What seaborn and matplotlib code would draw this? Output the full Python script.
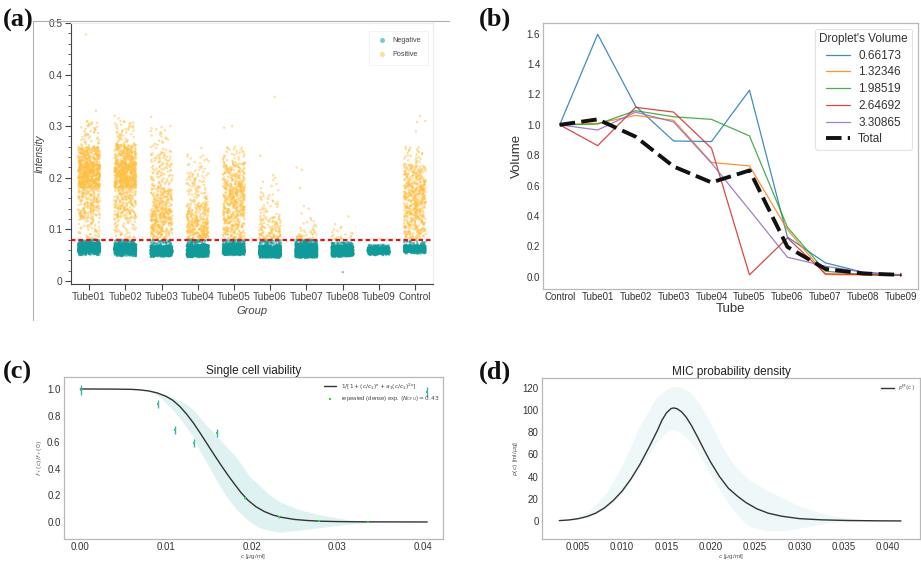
import numpy as np
import pandas as pd
import matplotlib
matplotlib.use("Agg")
import matplotlib.pyplot as plt
import seaborn as sns
from matplotlib.lines import Line2D
from matplotlib.ticker import MultipleLocator, FuncFormatter, FixedLocator

np.random.seed(0)

# ---------------- (a) droplet intensities per tube ----------------
groups = ["Tube01", "Tube02", "Tube03", "Tube04", "Tube05",
          "Tube06", "Tube07", "Tube08", "Tube09", "Control"]
quantile_levels = [0.0, 0.05, 0.25, 0.5, 0.75, 0.95, 1.0]

pos_counts = [900, 900, 500, 380, 560, 150, 45, 20, 2, 560]
pos_quantiles = [
    [0.080, 0.120, 0.180, 0.205, 0.228, 0.260, 0.310],
    [0.080, 0.120, 0.180, 0.205, 0.230, 0.265, 0.310],
    [0.080, 0.090, 0.115, 0.140, 0.180, 0.250, 0.300],
    [0.080, 0.085, 0.100, 0.120, 0.150, 0.210, 0.245],
    [0.080, 0.090, 0.125, 0.160, 0.190, 0.230, 0.260],
    [0.080, 0.082, 0.090, 0.105, 0.125, 0.170, 0.200],
    [0.080, 0.081, 0.085, 0.090, 0.100, 0.120, 0.140],
    [0.080, 0.081, 0.084, 0.088, 0.095, 0.105, 0.110],
    [0.080, 0.080, 0.081, 0.081, 0.082, 0.082, 0.082],
    [0.080, 0.090, 0.125, 0.160, 0.190, 0.225, 0.260],
]
pos_outliers = [[0.330, 0.478], [0.320, 0.315], [0.318], [0.258],
                [0.300, 0.297], [0.357, 0.243, 0.205],
                [0.220, 0.215, 0.180, 0.145], [0.125], [], [0.310, 0.320, 0.308, 0.290]]

neg_counts = [1000, 1100, 1100, 1100, 1100, 1300, 1300, 1200, 700, 600]
neg_quantiles = [
    [0.050, 0.055, 0.060, 0.064, 0.068, 0.074, 0.080],
    [0.048, 0.053, 0.057, 0.061, 0.065, 0.072, 0.080],
    [0.047, 0.050, 0.054, 0.057, 0.061, 0.068, 0.080],
    [0.046, 0.049, 0.053, 0.056, 0.061, 0.070, 0.080],
    [0.050, 0.053, 0.057, 0.060, 0.064, 0.072, 0.080],
    [0.045, 0.048, 0.052, 0.056, 0.060, 0.068, 0.080],
    [0.045, 0.048, 0.052, 0.057, 0.062, 0.072, 0.080],
    [0.047, 0.050, 0.054, 0.058, 0.063, 0.068, 0.075],
    [0.050, 0.053, 0.056, 0.059, 0.062, 0.066, 0.070],
    [0.053, 0.056, 0.059, 0.062, 0.065, 0.069, 0.078],
]
neg_outliers = [[], [], [], [], [], [], [], [0.017], [], []]
threshold = 0.08

# ---------------- (b) relative volume per droplet size ----------------
tubes_b = ["Control", "Tube01", "Tube02", "Tube03", "Tube04",
           "Tube05", "Tube06", "Tube07", "Tube08", "Tube09"]
vol_066173 = [1.0, 1.596, 1.123, 0.894, 0.890, 1.228, 0.262, 0.092, 0.030, 0.013]
vol_132346 = [1.0, 1.010, 1.062, 1.030, 0.752, 0.730, 0.310, 0.015, 0.012, 0.010]
vol_198519 = [1.0, 1.005, 1.093, 1.053, 1.036, 0.927, 0.326, 0.037, 0.015, 0.010]
vol_264692 = [1.0, 0.863, 1.115, 1.084, 0.846, 0.013, 0.256, 0.020, 0.015, 0.010]
vol_330865 = [1.0, 0.966, 1.084, 1.019, 0.748, 0.440, 0.129, 0.070, 0.030, 0.010]
vol_total = [1.0, 1.036, 0.922, 0.726, 0.621, 0.700, 0.197, 0.052, 0.022, 0.013]
size_labels = ["0.66173", "1.32346", "1.98519", "2.64692", "3.30865"]

# ---------------- (c) single cell viability ----------------
fit_c = [0.0, 0.004, 0.006, 0.007, 0.008, 0.009, 0.010, 0.0108, 0.0116, 0.0124,
         0.0132, 0.014, 0.0148, 0.0156, 0.0164, 0.0172, 0.018, 0.0188, 0.0196,
         0.0205, 0.0215, 0.0225, 0.0235, 0.025, 0.0265, 0.028, 0.030, 0.033,
         0.036, 0.0405]
fit_f = [1.0, 0.999, 0.997, 0.993, 0.985, 0.970, 0.945, 0.915, 0.870, 0.812,
         0.745, 0.668, 0.588, 0.508, 0.430, 0.355, 0.285, 0.218, 0.162,
         0.115, 0.078, 0.052, 0.035, 0.019, 0.011, 0.006, 0.003, 0.001,
         0.0005, 0.0]
band_c = [0.0065, 0.008, 0.0093, 0.011, 0.0123, 0.0132, 0.014, 0.015, 0.016,
          0.0173, 0.0183, 0.0198, 0.021, 0.0218, 0.0233, 0.0257, 0.0276,
          0.0296, 0.0315, 0.0335, 0.0342]
band_f_hi = [1.0, 0.99, 0.97, 0.93, 0.89, 0.845, 0.78, 0.71, 0.64,
             0.55, 0.48, 0.34, 0.27, 0.22, 0.15, 0.09, 0.06,
             0.035, 0.015, 0.005, 0.0]
band_f_lo = [1.0, 0.985, 0.94, 0.83, 0.72, 0.64, 0.53, 0.42, 0.30,
             0.17, 0.09, 0.0, -0.045, -0.06, -0.078, -0.06, -0.045,
             -0.03, -0.015, -0.005, 0.0]
exp_c = [0.00012, 0.0091, 0.01105, 0.01327, 0.01591, 0.01926, 0.02315, 0.0279, 0.03354, 0.04047]
exp_f = [0.995, 0.889, 0.693, 0.593, 0.668, 0.178, 0.035, 0.008, 0.0, 0.975]
exp_err = [0.038, 0.029, 0.030, 0.030, 0.028, 0.008, 0.006, 0.004, 0.003, 0.038]

# ---------------- (d) MIC probability density ----------------
mic_c = [0.0029, 0.004, 0.005, 0.006, 0.007, 0.008, 0.009, 0.010, 0.011, 0.012,
         0.013, 0.014, 0.0145, 0.015, 0.0155, 0.0158, 0.0162, 0.0167, 0.0172,
         0.0178, 0.0185, 0.0192, 0.020, 0.021, 0.022, 0.023, 0.024, 0.0252,
         0.0265, 0.028, 0.030, 0.0325, 0.0355, 0.039, 0.0415]
mic_p = [0.3, 0.9, 2.0, 3.9, 7.0, 11.8, 18.5, 27.0, 38.0, 51.0,
         66.0, 82.0, 91.0, 97.5, 101.3, 102.0, 101.3, 98.5, 94.0,
         86.5, 76.0, 65.0, 53.0, 40.0, 29.5, 22.5, 16.5, 11.0,
         7.0, 4.3, 2.1, 1.0, 0.4, 0.1, 0.0]
mic_band_c = [0.0045, 0.0063, 0.0082, 0.0101, 0.012, 0.0139, 0.0152, 0.0157, 0.0164,
              0.0176, 0.0187, 0.0195, 0.0205, 0.0214, 0.0225, 0.0235, 0.0244,
              0.0263, 0.0282, 0.030, 0.0319, 0.0338, 0.0357, 0.0375, 0.039]
mic_band_hi = [2, 9, 25, 52, 86, 112, 120, 121.5, 121, 117, 106, 95, 80, 66, 52,
               43, 37, 28, 20.5, 13.6, 8.4, 4.8, 2.5, 1, 0]
mic_band_lo = [1, 4, 11, 26, 48, 71, 81, 82.5, 81, 73, 60, 49, 35, 23, 10,
               1, -5, -9, -9, -6.6, -3.6, -1.5, -0.5, 0, 0]

# ================= figure =================
sns.set_theme(style="white")
plt.rcParams["font.family"] = ["Liberation Sans", "DejaVu Sans"]
plt.rcParams["mathtext.fontset"] = "dejavusans"

W, H = 921, 561
fig = plt.figure(figsize=(W / 100, H / 100), dpi=100)


def px_axes(x0, y0, x1, y1):
    return fig.add_axes([x0 / W, 1 - y1 / H, (x1 - x0) / W, (y1 - y0) / H])


teal = "#109a9a"
orange = "#ffbf40"

# ---- (a) ----
rows = []
for g, n, q, extra in zip(groups, pos_counts, pos_quantiles, pos_outliers):
    vals = np.interp(np.linspace(0, 1, n), quantile_levels, q)
    for v in list(vals) + extra:
        rows.append((g, v, "Positive"))
for g, n, q, extra in zip(groups, neg_counts, neg_quantiles, neg_outliers):
    vals = np.interp(np.linspace(0, 1, n), quantile_levels, q)
    for v in list(vals) + extra:
        rows.append((g, v, "Negative"))
df_a = pd.DataFrame(rows, columns=["Group", "Intensity", "Class"])

ax_a = px_axes(71, 23, 433, 284)
sns.stripplot(data=df_a, x="Group", y="Intensity", hue="Class", order=groups,
              hue_order=["Negative", "Positive"],
              palette={"Negative": teal, "Positive": orange},
              jitter=0.3, size=1.8, alpha=0.5, linewidth=0, legend=False, ax=ax_a)
ax_a.axhline(threshold, color="#ee1111", lw=1.6, ls=(0, (2.0, 1.4)), zorder=5)
ax_a.set_xlim(-0.5, 9.5)
ax_a.set_ylim(-0.006, 0.5)
ax_a.yaxis.set_major_locator(FixedLocator([0, 0.1, 0.2, 0.3, 0.4, 0.5]))
ax_a.yaxis.set_minor_locator(MultipleLocator(0.02))
ax_a.yaxis.set_major_formatter(FuncFormatter(lambda v, p: "0" if abs(v) < 1e-9 else f"{v:.1f}"))
ax_a.tick_params(axis="both", which="major", direction="out", length=4, width=0.8,
                 color="#444444", labelcolor="#444444", labelsize=7.3, pad=2)
ax_a.tick_params(axis="y", which="minor", direction="out", length=2, width=0.6, color="#444444", left=True)
ax_a.tick_params(axis="x", which="major", bottom=True)
ax_a.tick_params(axis="y", which="major", left=True)
for s in ["left", "bottom"]:
    ax_a.spines[s].set_color("#444444")
    ax_a.spines[s].set_linewidth(0.8)
for s in ["top", "right"]:
    ax_a.spines[s].set_color("#ececec")
    ax_a.spines[s].set_linewidth(0.8)
ax_a.set_xlabel("Group", fontsize=8, style="italic", color="#444444", labelpad=3)
ax_a.set_ylabel("Intensity", fontsize=7.5, style="italic", color="#444444", labelpad=3)
leg_a = ax_a.legend(
    handles=[Line2D([], [], marker="o", ls="", color="#7ccccc", ms=2.6),
             Line2D([], [], marker="o", ls="", color="#ffdf9a", ms=2.6)],
    labels=["Negative", "Positive"], loc="upper right", fontsize=5.2,
    frameon=True, edgecolor="#eeeeee", fancybox=False, handletextpad=0.4,
    borderpad=0.9, labelspacing=1.0, bbox_to_anchor=(0.995, 0.985))
leg_a.get_frame().set_linewidth(0.6)
for t in leg_a.get_texts():
    t.set_color("#444444")

# ---- (b) ----
frame_col = "#b8b8b8"
ax_b = px_axes(543, 23, 918, 289)
x_b = np.arange(len(tubes_b))
series_b = [vol_066173, vol_132346, vol_198519, vol_264692, vol_330865]
cols_b = sns.color_palette("tab10", 5)
for vals, lab, col in zip(series_b, size_labels, cols_b):
    sns.lineplot(x=x_b, y=vals, color=col, lw=0.9, alpha=0.85, label=lab, ax=ax_b)
sns.lineplot(x=x_b, y=vol_total, color="#111111", lw=2.8, label="Total", ax=ax_b)
ax_b.lines[-1].set_dashes((4.0, 1.6))
ax_b.set_xticks(x_b)
ax_b.set_xticklabels(tubes_b)
ax_b.set_xlim(-0.44, 9.44)
ax_b.set_ylim(-0.08, 1.67)
ax_b.set_yticks(np.arange(0, 1.61, 0.2))
ax_b.yaxis.set_major_formatter(FuncFormatter(lambda v, p: f"{v:.1f}"))
ax_b.tick_params(labelsize=7, labelcolor="#333333", pad=2, length=0)
for s in ax_b.spines.values():
    s.set_color(frame_col)
    s.set_linewidth(0.9)
ax_b.set_xlabel("Tube", fontsize=9.5, color="#333333", labelpad=1)
ax_b.set_ylabel("Volume", fontsize=9.5, color="#333333", labelpad=3)
leg_b = ax_b.legend(title="Droplet's Volume", loc="upper right", fontsize=8.5,
                    title_fontsize=8.5, frameon=True, edgecolor="#dddddd",
                    handlelength=2.0, handletextpad=0.7, borderpad=0.35,
                    labelspacing=0.4, bbox_to_anchor=(1.0, 1.0))
leg_b.get_frame().set_linewidth(0.8)
for t in leg_b.get_texts():
    t.set_color("#333333")
leg_b.get_title().set_color("#333333")

# ---- (c) ----
ax_c = px_axes(64, 377, 443, 539)
ax_c.fill_between(band_c, band_f_lo, band_f_hi, color="#dff2f2", lw=0, zorder=1)
sns.lineplot(x=fit_c, y=fit_f, color="#333333", lw=1.0, sort=False, ax=ax_c,
             label=r"$1/[1+(c/c_1)^\kappa+a_1(c/c_1)^{2\kappa}]$", zorder=3)
ax_c.errorbar(exp_c, exp_f, yerr=exp_err, fmt="none", ecolor="#4aa0dc", elinewidth=1.0, zorder=4)
sns.scatterplot(x=exp_c, y=exp_f, marker="s", s=4, color="#22e022", linewidth=0, ax=ax_c,
                label=r"repeated (dense) exp. $\langle N_{\mathrm{CFU}}\rangle = 0.43$", zorder=5)
ax_c.set_xlim(-0.0019, 0.04234)
ax_c.set_ylim(-0.128, 1.09)
ax_c.set_xticks([0.0, 0.01, 0.02, 0.03, 0.04])
ax_c.xaxis.set_major_formatter(FuncFormatter(lambda v, p: f"{v:.2f}"))
ax_c.set_yticks(np.arange(0, 1.01, 0.2))
ax_c.yaxis.set_major_formatter(FuncFormatter(lambda v, p: f"{v:.1f}"))
ax_c.tick_params(labelsize=7, labelcolor="#333333", pad=2.5, length=0)
for s in ax_c.spines.values():
    s.set_color(frame_col)
    s.set_linewidth(0.9)
ax_c.set_title("Single cell viability", fontsize=8.5, color="#222222", pad=2)
ax_c.set_xlabel(r"$c$ [$\mu$g/ml]", fontsize=4.5, color="#555555", labelpad=0)
ax_c.set_ylabel(r"$f_+(c)/f_+(0)$", fontsize=4.5, color="#555555", labelpad=2)
leg_c = ax_c.legend(loc="upper right", fontsize=4.2, frameon=False, handlelength=2.2,
                    borderaxespad=0.2, labelspacing=0.3, bbox_to_anchor=(1.0, 0.995))
for t in leg_c.get_texts():
    t.set_color("#444444")

# ---- (d) ----
ax_d = px_axes(542, 378, 920, 539)
ax_d.fill_between(mic_band_c, mic_band_lo, mic_band_hi, color="#eef8f8", lw=0, zorder=1)
sns.lineplot(x=mic_c, y=mic_p, color="#333333", lw=1.0, sort=False, ax=ax_d,
             label=r"$p^{\mathrm{M}}(c)$", zorder=3)
ax_d.set_xlim(0.00094, 0.04365)
ax_d.set_ylim(-16.3, 129)
ax_d.set_xticks(np.arange(0.005, 0.0401, 0.005))
ax_d.xaxis.set_major_formatter(FuncFormatter(lambda v, p: f"{v:.3f}"))
ax_d.set_yticks(np.arange(0, 121, 20))
ax_d.tick_params(labelsize=7, labelcolor="#333333", pad=2.5, length=0)
for s in ax_d.spines.values():
    s.set_color(frame_col)
    s.set_linewidth(0.9)
ax_d.set_title("MIC probability density", fontsize=8.5, color="#222222", pad=2)
ax_d.set_xlabel(r"$c$ [$\mu$g/ml]", fontsize=4.5, color="#555555", labelpad=0)
ax_d.set_ylabel(r"$p(c)$ [ml/$\mu$g]", fontsize=4.5, color="#555555", labelpad=2)
leg_d = ax_d.legend(loc="upper right", fontsize=4.2, frameon=False, handlelength=2.2,
                    borderaxespad=0.4)
for t in leg_d.get_texts():
    t.set_color("#555555")

# ---- outer frame lines around (a) ----
fig.add_artist(Line2D([33 / W, 449 / W], [1 - 20.5 / H, 1 - 20.5 / H], color="#b0b0b0", lw=0.8))
fig.add_artist(Line2D([32.5 / W, 32.5 / W], [1 - 20.5 / H, 1 - 320 / H], color="#b0b0b0", lw=0.8))

# ---- panel letters ----
for txt, x, y in [("(a)", 3, 20), ("(b)", 479, 19), ("(c)", 3, 372), ("(d)", 479, 372)]:
    fig.text(x / W, 1 - y / H, txt, fontsize=19, fontweight="bold",
             family="Liberation Serif", va="center", ha="left", color="#111111")

fig.savefig("out.png", dpi=100)
